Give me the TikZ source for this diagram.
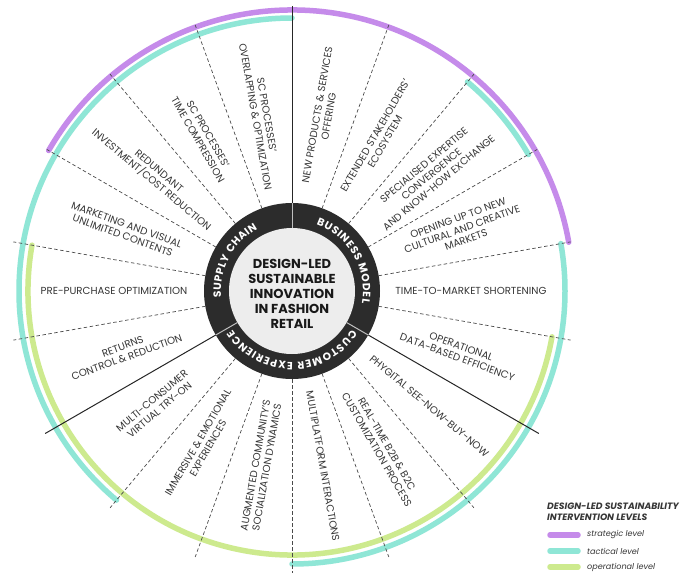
\documentclass[tikz,border=0pt]{standalone}
\usepackage{fontspec}
\setmainfont{Poppins}
\usetikzlibrary{decorations.text}

\definecolor{strat}{HTML}{C58BEA}
\definecolor{tact}{HTML}{8FE6D6}
\definecolor{oper}{HTML}{CDEA8E}
\definecolor{hub}{HTML}{2C2C2C}
\definecolor{core}{HTML}{EDEDED}
\definecolor{ink}{HTML}{363636}
\definecolor{spokegray}{HTML}{4A4A4A}

\tikzset{
  levelarc/.style={line width=5.5pt, line cap=round},
  spoke/.style={draw=spokegray, line width=0.7pt, dash pattern=on 3.5pt off 2.5pt},
  divider/.style={draw=black!85, line width=1pt},
  ringsep/.style={draw=black!25, line width=1pt},
  lbl/.style={text=ink, align=center, inner sep=0pt,
    font=\fontsize{10.2}{11.6}\selectfont},
  legendbar/.style={line width=5.5pt, line cap=round},
  legendtxt/.style={text=ink, anchor=west, inner sep=0pt,
    font=\fontsize{8.1}{9}\selectfont\itshape},
}

\newcommand{\ringlabel}[3]{%
  \path[decorate, decoration={text along path,
      text={|\fontsize{10.6}{12}\selectfont\bfseries\color{white}|#1},
      text align={fit to path}}]
    (#2:71) arc[start angle=#2, end angle=#3, radius=71];}

\begin{document}
\begin{tikzpicture}[x=1pt, y=1pt]
\useasboundingbox (0,0) rectangle (683,-573);
\fill[white] (0,0) rectangle (683,-573);

\begin{scope}[shift={(292,-291)}]
  % intervention level arcs
  \draw[levelarc, strat] (150:281) arc[start angle=150, end angle=10, radius=281];
  \draw[levelarc, tact] (90:273) arc[start angle=90, end angle=230, radius=273];
  \draw[levelarc, tact] (50:273) arc[start angle=50, end angle=30, radius=273];
  \draw[levelarc, tact] (270:273) arc[start angle=270, end angle=370, radius=273];
  \draw[levelarc, oper] (170:264) arc[start angle=170, end angle=350, radius=264];

  % sub-sector spokes and main sector dividers
  \foreach \a in {10,30,50,70,110,130,150,170,190,230,250,270,290,310,350}
    \draw[spoke] (\a:88) -- (\a:283);
  \foreach \a in {90,210,330}
    \draw[divider] (\a:88) -- (\a:285);

  % hub
  \fill[hub] (0,0) circle[radius=88];
  \fill[core] (0,0) circle[radius=63];
  \foreach \a in {90,210,330}
    \draw[ringsep] (\a:63) -- (\a:88);

  \node[align=center, inner sep=0pt, text=black!90,
        font=\fontsize{13}{15}\selectfont\bfseries] (title) at (0,-3)
    {DESIGN-LED\\SUSTAINABLE\\INNOVATION\\IN FASHION\\RETAIL};

  \ringlabel{BUSINESS MODEL}{70}{-10}
  \ringlabel{SUPPLY CHAIN}{185}{119}
  \ringlabel{CUSTOMER EXPERIENCE}{-33}{-147}

  % business model
  \node[lbl, rotate=80]  (b1) at (80:178)  {NEW PRODUCTS \& SERVICES\\OFFERING};
  \node[lbl, rotate=60]  (b2) at (60:176)  {EXTENDED STAKEHOLDERS'\\ECOSYSTEM};
  \node[lbl, rotate=40]  (b3) at (40:182)  {SPECIALISED EXPERTISE\\CONVERGENCE\\AND KNOW-HOW EXCHANGE};
  \node[lbl, rotate=20]  (b4) at (20:181)  {OPENING UP TO NEW\\CULTURAL AND CREATIVE\\MARKETS};
  \node[lbl, rotate=0]   (b5) at (0:179)   {TIME-TO-MARKET SHORTENING};
  \node[lbl, rotate=-20] (b6) at (-20:178) {OPERATIONAL\\DATA-BASED EFFICIENCY};
  % customer experience
  \node[lbl, rotate=-40] (c1) at (-40:179) {PHYGITAL SEE-NOW-BUY-NOW};
  \node[lbl, rotate=-60] (c2) at (-60:180) {REAL-TIME B2B \& B2C\\CUSTOMIZATION PROCESS};
  \node[lbl, rotate=-80] (c3) at (-80:178) {MULTIPLATFORM INTERACTIONS};
  \node[lbl, rotate=80]  (c4) at (260:178) {AUGMENTED COMMUNITY'S\\SOCIALIZATION DYNAMICS};
  \node[lbl, rotate=60]  (c5) at (240:178) {IMMERSIVE \& EMOTIONAL\\EXPERIENCES};
  \node[lbl, rotate=40]  (c6) at (220:178) {MULTI-CONSUMER\\VIRTUAL TRY-ON};
  % supply chain
  \node[lbl, rotate=20]  (s1) at (200:178) {RETURNS\\CONTROL \& REDUCTION};
  \node[lbl, rotate=0]   (s2) at (180:178) {PRE-PURCHASE OPTIMIZATION};
  \node[lbl, rotate=-20] (s3) at (160:178) {MARKETING AND VISUAL\\UNLIMITED CONTENTS};
  \node[lbl, rotate=-40] (s4) at (140:179) {REDUNDANT\\INVESTMENT/COST REDUCTION};
  \node[lbl, rotate=-60] (s5) at (120:178) {SC PROCESSES'\\TIME COMPRESSION};
  \node[lbl, rotate=-80] (s6) at (100:178) {SC PROCESSES'\\OVERLAPPING \& OPTIMIZATION};
\end{scope}

% legend
\node[anchor=north west, align=left, inner sep=0pt, text=ink,
      font=\fontsize{9.2}{10.4}\selectfont\bfseries\itshape] (legtitle) at (547,-503)
  {DESIGN-LED SUSTAINABILITY\\INTERVENTION LEVELS};
\draw[legendbar, strat] (550,-535) coordinate (ls1) -- (578,-535) coordinate (ls2);
\draw[legendbar, tact]  (550,-551) coordinate (lt1) -- (578,-551) coordinate (lt2);
\draw[legendbar, oper]  (550,-567) coordinate (lo1) -- (578,-567) coordinate (lo2);
\node[legendtxt] (legs) at (587,-535) {strategic level};
\node[legendtxt] (legt) at (587,-551) {tactical level};
\node[legendtxt] (lego) at (587,-567) {operational level};
\end{tikzpicture}
\end{document}
